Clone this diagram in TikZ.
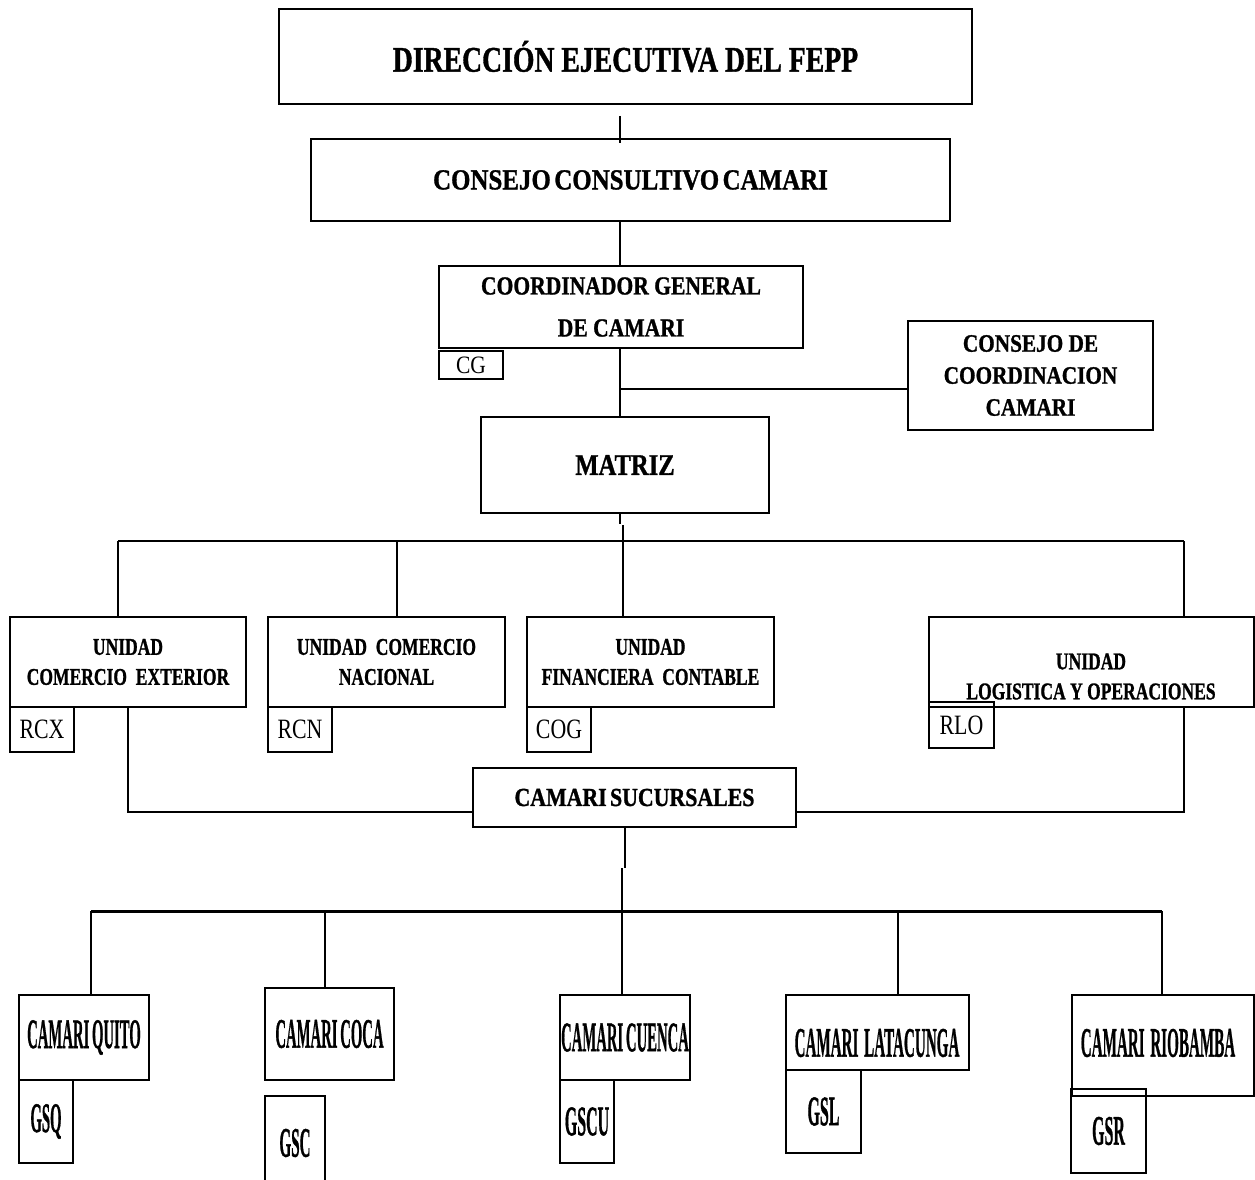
\documentclass[tikz,border=0pt]{standalone}
\usepackage{fontspec}
\setmainfont[BoldFeatures={FakeBold=1.2}]{Liberation Serif}
\usepackage{graphicx}
\newcommand\sx[2]{\scalebox{#1}[1]{#2}}
\begin{document}
\begin{tikzpicture}[x=1pt,y=-1pt,
  bx/.style={draw, line width=1.1pt, inner sep=0pt, align=center},
  hb/.style={bx, line width=1.6pt},
  ln/.style={line width=1.1pt},
  ftop/.style={font=\fontsize{36}{36}\selectfont\bfseries},
  fmid/.style={font=\fontsize{26}{42}\selectfont\bfseries},
  fccc/.style={font=\fontsize{25}{32}\selectfont\bfseries},
  funi/.style={font=\fontsize{24}{30}\selectfont\bfseries},
  fcode/.style={font=\fontsize{28}{28}\selectfont},
  fbot/.style={font=\fontsize{42}{42}\selectfont\bfseries}]
\useasboundingbox (0,0) rectangle (1255,1180);

% top chain
\node[bx, ftop, minimum width=693pt, minimum height=95pt] (dir) at (625.5,56.5) {\sx{0.77}{DIRECCIÓN EJECUTIVA DEL FEPP}};
\node[bx, font=\fontsize{29}{29}\selectfont\bfseries, minimum width=639pt, minimum height=82pt] (cons) at (630.5,180) {\sx{0.86}{CONSEJO\hspace{4pt}CONSULTIVO\hspace{4pt}CAMARI}};
\node[bx, fmid, minimum width=364pt, minimum height=82pt] (coord) at (621,307) {\sx{0.83}{COORDINADOR GENERAL}\\\sx{0.83}{DE CAMARI}};
\node[bx, font=\fontsize{25}{25}\selectfont, minimum width=64pt, minimum height=28pt] (cg) at (471,365) {\sx{0.86}{CG}};
\node[bx, fccc, minimum width=245pt, minimum height=109pt] (ccc) at (1030.5,375.5) {\sx{0.85}{CONSEJO DE}\\\sx{0.85}{COORDINACION}\\\sx{0.85}{CAMARI}};
\node[bx, font=\fontsize{30}{30}\selectfont\bfseries, minimum width=288pt, minimum height=96pt] (mat) at (625,465) {\sx{0.82}{MATRIZ}};

% units
\node[bx, funi, minimum width=236pt, minimum height=90pt] (ue) at (128,662) {\sx{0.73}{UNIDAD}\\\sx{0.73}{COMERCIO\ \ EXTERIOR}};
\node[bx, fcode, minimum width=64pt, minimum height=45pt] (rcx) at (42,729.5) {\sx{0.78}{RCX}};
\node[bx, funi, minimum width=237pt, minimum height=90pt] (un) at (386.5,662) {\sx{0.73}{UNIDAD\ \ COMERCIO}\\\sx{0.73}{NACIONAL}};
\node[bx, fcode, minimum width=64pt, minimum height=45pt] (rcn) at (300,729.5) {\sx{0.78}{RCN}};
\node[bx, funi, minimum width=247pt, minimum height=90pt] (uf) at (650.5,662) {\sx{0.73}{UNIDAD}\\\sx{0.73}{FINANCIERA\ \ CONTABLE}};
\node[bx, fcode, minimum width=64pt, minimum height=45pt] (cog) at (559,729.5) {\sx{0.78}{COG}};
\node[bx, minimum width=325pt, minimum height=90pt] (lo) at (1091.5,662) {};
\node[funi, align=center, inner sep=0pt] (lot) at (1091,676.5) {\sx{0.73}{UNIDAD}\\\sx{0.73}{LOGISTICA Y OPERACIONES}};
\node[bx, fcode, minimum width=65pt, minimum height=46pt] (rlo) at (961.5,725) {\sx{0.78}{RLO}};

\node[bx, font=\fontsize{26}{26}\selectfont\bfseries, minimum width=323pt, minimum height=59pt] (suc) at (634.5,797.5) {\sx{0.84}{CAMARI\hspace{4pt}SUCURSALES}};

% branches
\node[hb, fbot, minimum width=130pt, minimum height=85pt] (qui) at (84,1037.5) {\sx{0.35}{CAMARI\hspace{8pt}QUITO}};
\node[hb, fbot, minimum width=54pt, minimum height=83pt] (gsq) at (46,1121.5) {\sx{0.35}{GSQ}};
\node[hb, fbot, minimum width=129pt, minimum height=92pt] (coc) at (329.5,1034) {\sx{0.35}{CAMARI\hspace{8pt}COCA}};
\node[hb, fbot, minimum width=60pt, minimum height=94pt] (gsc) at (295,1143) {\sx{0.36}{GSC}};
\node[hb, fbot, minimum width=130pt, minimum height=85pt] (cue) at (625,1037.5) {\sx{0.35}{CAMARI\hspace{8pt}CUENCA}};
\node[hb, fbot, minimum width=54pt, minimum height=83pt] (gscu) at (587,1121.5) {\sx{0.38}{GSCU}};
\node[hb, minimum width=183pt, minimum height=75pt] (lat) at (877.5,1032.5) {};
\node[fbot, inner sep=0pt] (latt) at (877,1043) {\sx{0.36}{CAMARI\hspace{16pt}LATACUNGA}};
\node[hb, fbot, minimum width=75pt, minimum height=83pt] (gsl) at (823.5,1111.5) {\sx{0.38}{GSL}};
\node[hb, minimum width=182pt, minimum height=101pt] (rio) at (1163,1045.5) {};
\node[fbot, inner sep=0pt] (riot) at (1158,1043) {\sx{0.36}{CAMARI\hspace{16pt}RIOBAMBA}};
\node[hb, fbot, minimum width=75pt, minimum height=84pt] (gsr) at (1108.5,1131) {\sx{0.38}{GSR}};

% connectors
\coordinate (sp) at (620,0);
\coordinate (t1) at (620,116);
\draw[ln] (t1) -- ([yshift=-5pt]cons.north -| t1);
\draw[ln] (sp |- cons.south) -- (sp |- coord.north);
\draw[ln] (sp |- coord.south) -- (sp |- mat.north);
\coordinate (j1) at (620,389);
\draw[ln] (j1) -- (j1 -| ccc.west);

\coordinate (m0) at (620,524);
\draw[ln] (m0 |- mat.south) -- (m0);
\coordinate (m1) at (623,541);
\draw[ln] (623,525) -- (m1);
\coordinate (b1) at (118,541);
\coordinate (b2) at (397,541);
\coordinate (b4) at (1184,541);
\draw[ln] (b1) -- (b4);
\draw[ln] (b1) -- (b1 |- ue.north);
\draw[ln] (b2) -- (b2 |- un.north);
\draw[ln] (m1) -- (m1 |- uf.north);
\draw[ln] (b4) -- (b4 |- lo.north);

\coordinate (l1) at (128,812);
\coordinate (r1) at (1184,812);
\draw[ln] (l1 |- ue.south) -- (l1) -- (l1 -| suc.west);
\draw[ln] (r1 |- lo.south) -- (r1) -- (r1 -| suc.east);

\coordinate (s0) at (625,868);
\draw[ln] (s0 |- suc.south) -- (s0);
\coordinate (s1) at (622,911);
\draw[ln] (622,868) -- (s1);
\coordinate (c1) at (91,911);
\coordinate (c2) at (325,911);
\coordinate (c4) at (898,911);
\coordinate (c5) at (1162,911);
\draw[line width=3pt] (c1) -- (c5);
\draw[ln] (c1) -- (c1 |- qui.north);
\draw[ln] (c2) -- (c2 |- coc.north);
\draw[ln] (s1) -- (s1 |- cue.north);
\draw[ln] (c4) -- (c4 |- lat.north);
\draw[ln] (c5) -- (c5 |- rio.north);
\end{tikzpicture}
\end{document}
